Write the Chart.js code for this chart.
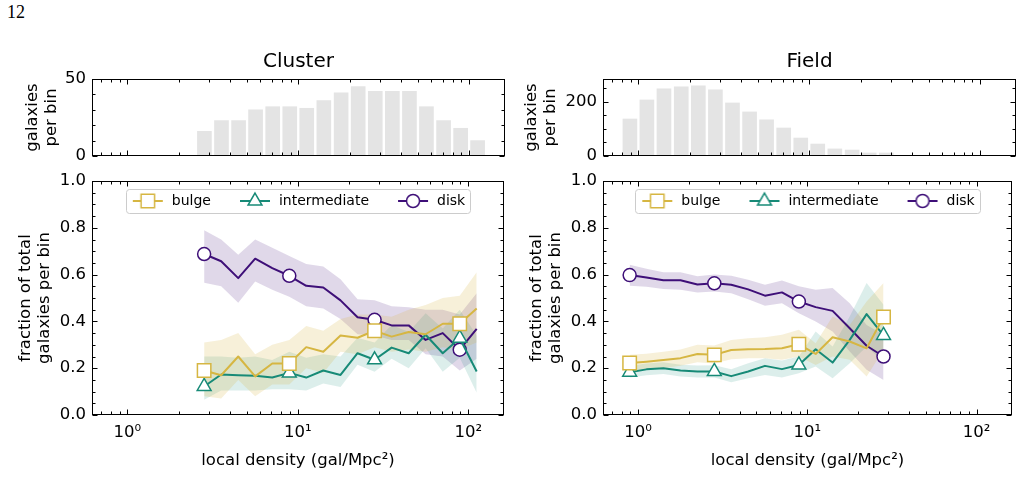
<!DOCTYPE html>
<html>
<head>
<meta charset="utf-8">
<script src="https://cdn.jsdelivr.net/npm/chart.js@4.4.1/dist/chart.umd.min.js"></script>
<style>
  html, body { margin: 0; padding: 0; background: #fff; }
  body { width: 1023px; height: 503px; position: relative; overflow: hidden; }
  canvas { position: absolute; }
  #page { position: absolute; left: 7px; top: 3px; font: 18px "Liberation Serif", "DejaVu Serif", serif; line-height: 1; }
</style>
</head>
<body>
<div id="page">12</div>
<canvas id="histCluster" width="515" height="122" style="left:0px;top:50px"></canvas>
<canvas id="histField" width="512" height="122" style="left:511px;top:50px"></canvas>
<canvas id="fracCluster" width="515" height="345" style="left:0px;top:130px"></canvas>
<canvas id="fracField" width="512" height="345" style="left:511px;top:130px"></canvas>
<script>
// axes
const xTickValues = [1, 10, 100];
const xTickLabels = ["10⁰", "10¹", "10²"];
const xMinorTicks = [0.7, 0.8, 0.9, 2, 3, 4, 5, 6, 7, 8, 9, 20, 30, 40, 50, 60, 70, 80, 90];
const xTitle = "local density (gal/Mpc²)";
const fracTicks = [0, 0.2, 0.4, 0.6, 0.8, 1.0];
const fracMinorTicks = [0.05, 0.1, 0.15, 0.25, 0.3, 0.35, 0.45, 0.5, 0.55, 0.65, 0.7, 0.75, 0.85, 0.9, 0.95];
const clusterHistTicks = [0, 50];
const clusterHistMinor = [10, 20, 30, 40];
const fieldHistTicks = [0, 200];
const fieldHistMinor = [50, 100, 150, 250];
const histTitle = ["galaxies", "per bin"];
const fracTitle = ["fraction of total", "galaxies per bin"];
const markEvery = 5;

// cluster
const clusterDensity = [2.82, 3.55, 4.47, 5.62, 7.08, 8.91, 11.2, 14.1, 17.8, 22.4, 28.2, 35.5, 44.7, 56.2, 70.8, 89.1, 112];
const clusterCounts = [16, 23, 23, 30, 32, 32, 31, 36, 41, 45, 42, 42, 42, 32, 23, 18, 10];
const clusterBulge = [0.19, 0.17, 0.25, 0.165, 0.22, 0.22, 0.29, 0.27, 0.34, 0.33, 0.36, 0.335, 0.355, 0.345, 0.39, 0.39, 0.455];
const clusterBulgeHi = [0.31, 0.32, 0.35, 0.26, 0.30, 0.32, 0.38, 0.36, 0.41, 0.43, 0.43, 0.42, 0.45, 0.47, 0.50, 0.51, 0.61];
const clusterBulgeLo = [0.08, 0.07, 0.15, 0.08, 0.13, 0.13, 0.20, 0.18, 0.27, 0.26, 0.29, 0.27, 0.28, 0.27, 0.29, 0.28, 0.31];
const clusterInter = [0.122, 0.173, 0.17, 0.168, 0.16, 0.18, 0.16, 0.19, 0.171, 0.264, 0.236, 0.288, 0.264, 0.343, 0.264, 0.328, 0.186];
const clusterInterHi = [0.25, 0.25, 0.245, 0.25, 0.235, 0.27, 0.245, 0.26, 0.25, 0.33, 0.31, 0.385, 0.355, 0.435, 0.37, 0.45, 0.34];
const clusterInterLo = [0.065, 0.105, 0.105, 0.105, 0.11, 0.11, 0.105, 0.135, 0.12, 0.215, 0.185, 0.24, 0.2, 0.285, 0.185, 0.245, 0.095];
const clusterDisk = [0.688, 0.657, 0.585, 0.668, 0.628, 0.595, 0.552, 0.545, 0.49, 0.418, 0.407, 0.383, 0.383, 0.321, 0.35, 0.279, 0.368];
const clusterDiskHi = [0.79, 0.75, 0.685, 0.75, 0.715, 0.68, 0.645, 0.635, 0.58, 0.495, 0.49, 0.465, 0.46, 0.45, 0.45, 0.43, 0.52];
const clusterDiskLo = [0.565, 0.55, 0.48, 0.57, 0.535, 0.505, 0.465, 0.455, 0.41, 0.345, 0.34, 0.32, 0.32, 0.26, 0.25, 0.19, 0.24];

// field
const fieldDensity = [0.891, 1.12, 1.41, 1.78, 2.24, 2.82, 3.55, 4.47, 5.62, 7.08, 8.91, 11.2, 14.1, 17.8, 22.4, 28.2];
const fieldCounts = [136, 206, 247, 254, 258, 243, 195, 162, 133, 103, 66, 44, 26, 22, 11, 11];
const fieldBulge = [0.222, 0.228, 0.235, 0.243, 0.261, 0.257, 0.278, 0.281, 0.282, 0.285, 0.302, 0.261, 0.332, 0.314, 0.285, 0.419];
const fieldBulgeHi = [0.257, 0.262, 0.27, 0.28, 0.3, 0.297, 0.32, 0.328, 0.332, 0.343, 0.364, 0.307, 0.421, 0.385, 0.485, 0.564];
const fieldBulgeLo = [0.19, 0.195, 0.2, 0.21, 0.225, 0.22, 0.238, 0.243, 0.243, 0.236, 0.25, 0.214, 0.25, 0.236, 0.164, 0.278];
const fieldInter = [0.183, 0.195, 0.2, 0.19, 0.186, 0.186, 0.166, 0.186, 0.21, 0.196, 0.214, 0.281, 0.224, 0.321, 0.431, 0.34];
const fieldInterHi = [0.21, 0.22, 0.225, 0.215, 0.212, 0.213, 0.195, 0.221, 0.243, 0.233, 0.25, 0.357, 0.293, 0.421, 0.564, 0.471];
const fieldInterLo = [0.16, 0.17, 0.175, 0.165, 0.16, 0.16, 0.14, 0.157, 0.171, 0.16, 0.178, 0.207, 0.157, 0.221, 0.293, 0.228];
const fieldDisk = [0.598, 0.588, 0.576, 0.576, 0.558, 0.563, 0.557, 0.537, 0.51, 0.524, 0.485, 0.461, 0.445, 0.371, 0.296, 0.25];
const fieldDiskHi = [0.642, 0.625, 0.61, 0.61, 0.593, 0.6, 0.595, 0.578, 0.557, 0.575, 0.55, 0.535, 0.543, 0.478, 0.385, 0.343];
const fieldDiskLo = [0.552, 0.548, 0.538, 0.535, 0.524, 0.528, 0.52, 0.495, 0.467, 0.478, 0.435, 0.4, 0.357, 0.271, 0.193, 0.15];

const colors = { bulge: "#d6b642", intermediate: "#178a77", disk: "#3e0f78" };
const bands = { bulge: "rgba(214,182,66,0.2)", intermediate: "rgba(23,138,119,0.15)", disk: "rgba(62,15,120,0.16)" };
const styles = { bulge: ["rect", 9.5], intermediate: ["triangle", 8], disk: ["circle", 6.5] };
const histColor = "#e4e4e4";

Chart.defaults.font.family = '"DejaVu Sans", sans-serif';
Chart.defaults.font.size = 16.5;
Chart.defaults.color = "#000";
Chart.defaults.animation = false;
Chart.defaults.events = [];

// full box with inward ticks on every side
const frameTicks = {
  id: "frameTicks",
  afterDraw(chart, args, opts) {
    const { ctx, chartArea: a, scales: { x, y } } = chart;
    const L = Math.round(a.left) + 0.5, R = Math.round(a.right) - 0.5;
    const T = Math.round(a.top) + 0.5, B = Math.round(a.bottom) - 0.5;
    ctx.save();
    ctx.strokeStyle = "#000";
    ctx.lineWidth = 1;
    ctx.beginPath();
    const xt = (v, len) => {
      const p = Math.round(x.getPixelForValue(v)) + 0.5;
      ctx.moveTo(p, B); ctx.lineTo(p, B - len);
      ctx.moveTo(p, T); ctx.lineTo(p, T + len);
    };
    const yt = (v, len) => {
      const p = Math.round(y.getPixelForValue(v)) + 0.5;
      ctx.moveTo(L, p); ctx.lineTo(L + len, p);
      ctx.moveTo(R, p); ctx.lineTo(R - len, p);
    };
    x.ticks.forEach(t => xt(t.value, 5));
    opts.xMinor.forEach(v => xt(v, 3));
    y.ticks.forEach(t => yt(t.value, 5));
    opts.yMinor.forEach(v => yt(v, 3));
    ctx.stroke();
    ctx.strokeRect(L, T, R - L, B - T);
    ctx.restore();
  }
};

// move the legend row into the plot and give it a frame
const legendInside = {
  id: "legendInside",
  afterLayout(chart) {
    const lg = chart.legend;
    if (!lg || !lg.options.display) return;
    const h = lg.height;
    lg.top = chart.chartArea.top + 20 - lg.options.labels.padding - 7;
    lg.bottom = lg.top + h;
  },
  beforeDraw(chart) {
    const lg = chart.legend;
    if (!lg || !lg.options.display || !lg.legendHitBoxes.length) return;
    const hb = lg.legendHitBoxes;
    const last = hb[hb.length - 1];
    const l = Math.round(hb[0].left - 5) + 0.5;
    const r = Math.round(last.left + last.width + 5) + 0.5;
    const cy = Math.round(hb[0].top + 7);
    const ctx = chart.ctx;
    ctx.save();
    ctx.strokeStyle = "#cccccc";
    ctx.lineWidth = 1;
    ctx.beginPath();
    ctx.roundRect(l, cy - 12 + 0.5, r - l, 24, 3);
    ctx.stroke();
    ctx.restore();
  }
};

function legendIcon(key) {
  const c = document.createElement("canvas");
  c.width = 32; c.height = 20;
  const g = c.getContext("2d");
  g.strokeStyle = colors[key];
  g.lineWidth = 2;
  g.beginPath(); g.moveTo(1, 10); g.lineTo(31, 10); g.stroke();
  g.fillStyle = "#fff";
  g.lineWidth = 1.5;
  Chart.helpers.drawPoint(g, { pointStyle: styles[key][0], radius: styles[key][1], borderWidth: 1.5, rotation: 0 }, 16, 10);
  return c;
}
const legendIcons = { bulge: legendIcon("bulge"), intermediate: legendIcon("intermediate"), disk: legendIcon("disk") };

function logAxis(showLabels) {
  return {
    type: "logarithmic", min: 0.62, max: 162, offset: false, bounds: "data",
    grid: { display: false, drawTicks: false }, border: { display: false },
    afterBuildTicks: s => { s.ticks = xTickValues.map(v => ({ value: v })); },
    afterFit: s => { s.height = showLabels ? 60 : 16; },
    ticks: { display: showLabels, autoSkip: false, maxRotation: 0, padding: 8, callback: (v, i) => xTickLabels[i] },
    title: { display: showLabels, text: xTitle, padding: { top: 0, bottom: 4 } }
  };
}

function yAxis(min, max, majors, fmt, text, pad) {
  return {
    min, max,
    grid: { display: false, drawTicks: false }, border: { display: false },
    afterBuildTicks: s => { s.ticks = majors.map(v => ({ value: v })); },
    afterFit: s => { s.width = 92; },
    ticks: { padding: 6, callback: fmt },
    title: { display: true, text, font: { size: 16.5, lineHeight: 1.15 }, padding: { top: pad, bottom: 0 } }
  };
}

function histChart(id, title, x, counts, ymax, majors, minors, padRight, titlePad) {
  return new Chart(document.getElementById(id), {
    type: "bar",
    data: { datasets: [{ data: x.map((v, i) => ({ x: v, y: counts[i] })), backgroundColor: histColor, barThickness: 14 }] },
    options: {
      responsive: false,
      layout: { padding: { left: 0, right: padRight, top: 0, bottom: 0 } },
      scales: { x: logAxis(false), y: yAxis(0, ymax, majors, v => String(v), histTitle, titlePad) },
      plugins: {
        legend: { display: false },
        tooltip: { enabled: false },
        title: { display: true, text: title, fullSize: false, font: { size: 20, weight: "normal" }, padding: { top: 0, bottom: 5 } },
        frameTicks: { xMinor: xMinorTicks, yMinor: minors }
      }
    },
    plugins: [frameTicks]
  });
}

function fracChart(id, x, series, padRight, titlePad) {
  const datasets = [];
  const keys = ["bulge", "intermediate", "disk"];
  keys.forEach((k, i) => {
    const s = series[k];
    datasets.push({ label: "", data: x.map((v, j) => ({ x: v, y: s.lo[j] })), showLine: true, borderWidth: 0, borderColor: "transparent", pointRadius: 0, fill: false, order: 10 + 2 * i });
    datasets.push({ label: "", data: x.map((v, j) => ({ x: v, y: s.hi[j] })), showLine: true, borderWidth: 0, borderColor: "transparent", pointRadius: 0, backgroundColor: bands[k], fill: datasets.length - 1, order: 10 + 2 * i });
  });
  keys.forEach((k, i) => {
    const s = series[k];
    datasets.push({
      label: k, data: x.map((v, j) => ({ x: v, y: s.val[j] })),
      borderColor: colors[k], borderWidth: 2, borderJoinStyle: "round", fill: false, tension: 0,
      pointStyle: styles[k][0], pointRadius: ctx => ctx.dataIndex % markEvery === 0 ? styles[k][1] : 0,
      pointBackgroundColor: "#fff", pointBorderColor: colors[k], pointBorderWidth: 1.5,
      order: i + 1
    });
  });
  return new Chart(document.getElementById(id), {
    type: "line",
    data: { datasets },
    options: {
      responsive: false,
      layout: { padding: { left: 0, right: padRight, top: 0, bottom: 0 } },
      scales: { x: logAxis(true), y: yAxis(0, 1, fracTicks, v => v.toFixed(1), fracTitle, titlePad) },
      plugins: {
        tooltip: { enabled: false },
        legend: {
          display: true, position: "top", fullSize: false, align: "center",
          labels: {
            usePointStyle: true, pointStyleWidth: 34, padding: 27, font: { size: 14 }, color: "#000",
            generateLabels: chart => Chart.defaults.plugins.legend.labels.generateLabels(chart)
              .filter(l => legendIcons[l.text])
              .map(l => Object.assign(l, { pointStyle: legendIcons[l.text] }))
          }
        },
        frameTicks: { xMinor: xMinorTicks, yMinor: fracMinorTicks }
      }
    },
    plugins: [legendInside, frameTicks]
  });
}

histChart("histCluster", "Cluster", clusterDensity, clusterCounts, 50, clusterHistTicks, clusterHistMinor, 10, 23);
histChart("histField", "Field", fieldDensity, fieldCounts, 283, fieldHistTicks, fieldHistMinor, 7, 11);

fracChart("fracCluster", clusterDensity, {
  bulge: { val: clusterBulge, lo: clusterBulgeLo, hi: clusterBulgeHi },
  intermediate: { val: clusterInter, lo: clusterInterLo, hi: clusterInterHi },
  disk: { val: clusterDisk, lo: clusterDiskLo, hi: clusterDiskHi }
}, 10, 16);
fracChart("fracField", fieldDensity, {
  bulge: { val: fieldBulge, lo: fieldBulgeLo, hi: fieldBulgeHi },
  intermediate: { val: fieldInter, lo: fieldInterLo, hi: fieldInterHi },
  disk: { val: fieldDisk, lo: fieldDiskLo, hi: fieldDiskHi }
}, 7, 16);
</script>
</body>
</html>
